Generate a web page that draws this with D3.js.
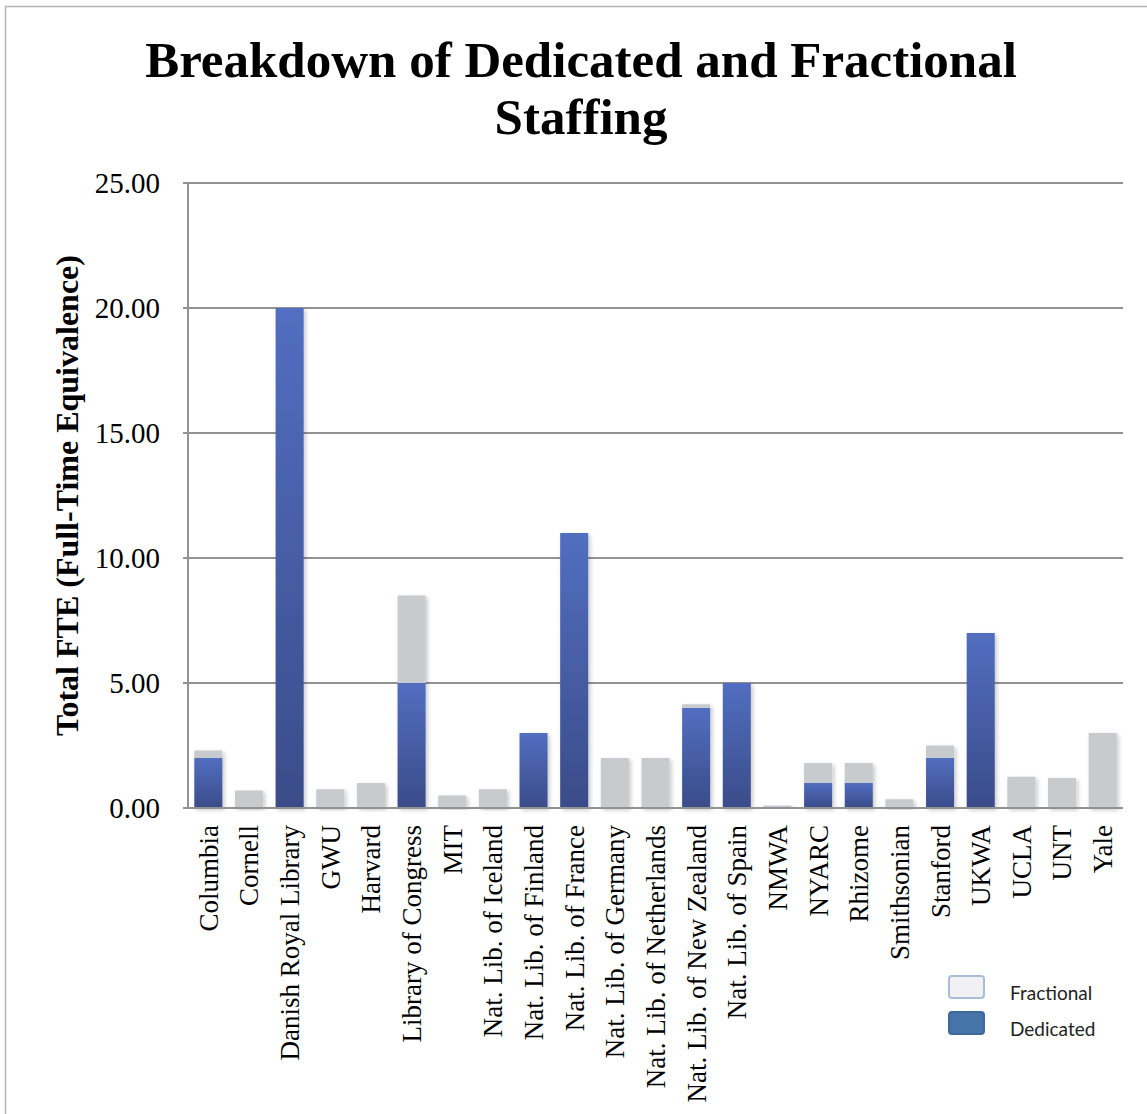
<!DOCTYPE html>
<html>
<head>
<meta charset="utf-8">
<script src="https://d3js.org/d3.v7.min.js"></script>
<style>
  body { margin: 0; background: #fff; }
</style>
</head>
<body>
<div id="chart"></div>
<script>
// data
var categories = ["Columbia", "Cornell", "Danish Royal Library", "GWU", "Harvard",
  "Library of Congress", "MIT", "Nat. Lib. of Iceland", "Nat. Lib. of Finland",
  "Nat. Lib. of France", "Nat. Lib. of Germany", "Nat. Lib. of Netherlands",
  "Nat. Lib. of New Zealand", "Nat. Lib. of Spain", "NMWA", "NYARC", "Rhizome",
  "Smithsonian", "Stanford", "UKWA", "UCLA", "UNT", "Yale"];
var dedicated = [2, 0, 20, 0, 0, 5, 0, 0, 3, 11, 0, 0, 4, 5, 0, 1, 1, 0, 2, 7, 0, 0, 0];
var fractional = [0.3, 0.7, 0, 0.75, 1, 3.5, 0.5, 0.75, 0, 0, 2, 2, 0.15, 0, 0.1, 0.8, 0.8, 0.35, 0.5, 0, 1.25, 1.2, 3];
var yTicks = [0, 5, 10, 15, 20, 25];
var seriesNames = ["Fractional", "Dedicated"];

var W = 1147, H = 1114;
var margin = {top: 183, left: 188, right: 24, bottom: 306};
var width = W - margin.left - margin.right,
    height = H - margin.top - margin.bottom;

var svg = d3.select("#chart").append("svg")
  .attr("width", W).attr("height", H)
  .style("font-family", "'Liberation Serif', 'Times New Roman', serif");

var defs = svg.append("defs");
var grad = defs.append("linearGradient").attr("id", "dedGrad")
  .attr("x1", 0).attr("y1", 0).attr("x2", 0).attr("y2", 1);
grad.append("stop").attr("offset", "0%").attr("stop-color", "#526ec0");
grad.append("stop").attr("offset", "100%").attr("stop-color", "#3a4c89");

var shadow = defs.append("filter").attr("id", "shadow")
  .attr("x", "-20%").attr("y", "-5%").attr("width", "160%").attr("height", "120%");
shadow.append("feDropShadow").attr("dx", 2).attr("dy", 2)
  .attr("stdDeviation", 2).attr("flood-color", "#000").attr("flood-opacity", 0.22);

// outer frame
svg.append("rect")
  .attr("x", 5.5).attr("y", 6.5).attr("width", W + 20).attr("height", H + 20)
  .attr("fill", "none").attr("stroke", "#b3b3b3").attr("stroke-width", 1.5);

// title
var title = svg.append("text")
  .attr("text-anchor", "middle")
  .attr("font-weight", "bold")
  .attr("font-size", 51)
  .attr("fill", "#000");
title.append("tspan").attr("x", 581).attr("y", 77).text("Breakdown of Dedicated and Fractional");
title.append("tspan").attr("x", 581).attr("y", 134).text("Staffing");

var g = svg.append("g").attr("transform", "translate(" + margin.left + "," + margin.top + ")");

var x = d3.scaleBand().domain(categories).range([0, width]).paddingInner(0.31).paddingOuter(0.155);
var y = d3.scaleLinear().domain([0, 25]).range([height, 0]);

// gridlines
g.append("g").selectAll("line").data(yTicks).enter().append("line")
  .attr("x1", -5).attr("x2", width)
  .attr("y1", function(d) { return y(d); })
  .attr("y2", function(d) { return y(d); })
  .attr("stroke", "#929292").attr("stroke-width", 2);

// left axis line
g.append("line").attr("x1", 0).attr("x2", 0).attr("y1", 0).attr("y2", height)
  .attr("stroke", "#929292").attr("stroke-width", 2);

// y axis labels
var yAxis = g.append("g")
  .call(d3.axisLeft(y).tickValues(yTicks).tickSize(0).tickPadding(28)
    .tickFormat(function(d) { return d3.format(".2f")(d); }));
yAxis.select(".domain").remove();
yAxis.selectAll("text")
  .attr("font-family", "'Liberation Serif', 'Times New Roman', serif")
  .attr("font-size", 29).attr("fill", "#000");

// stacked bars
var rows = categories.map(function(c, i) {
  return {name: c, dedicated: dedicated[i], fractional: fractional[i]};
});
var bars = g.append("g").selectAll("g").data(rows).enter().append("g")
  .attr("filter", "url(#shadow)");
bars.filter(function(d) { return d.fractional > 0; }).append("rect")
  .attr("x", function(d) { return x(d.name); })
  .attr("width", x.bandwidth())
  .attr("y", function(d) { return y(d.dedicated + d.fractional); })
  .attr("height", function(d) { return y(d.dedicated) - y(d.dedicated + d.fractional); })
  .attr("fill", "#c8cbce");
bars.filter(function(d) { return d.dedicated > 0; }).append("rect")
  .attr("x", function(d) { return x(d.name); })
  .attr("width", x.bandwidth())
  .attr("y", function(d) { return y(d.dedicated); })
  .attr("height", function(d) { return y(0) - y(d.dedicated); })
  .attr("fill", "url(#dedGrad)");

// baseline on top
g.append("line").attr("x1", 0).attr("x2", width).attr("y1", height).attr("y2", height)
  .attr("stroke", "#929292").attr("stroke-width", 2);

// x axis labels
var xAxis = g.append("g").attr("transform", "translate(0," + height + ")")
  .call(d3.axisBottom(x).tickSize(0));
xAxis.select(".domain").remove();
xAxis.selectAll("text")
  .attr("font-family", "'Liberation Serif', 'Times New Roman', serif")
  .attr("font-size", 27).attr("fill", "#000")
  .attr("transform", "rotate(-90)")
  .attr("text-anchor", "end")
  .attr("x", -17).attr("y", 0).attr("dy", "0.35em");

// y axis title
svg.append("text")
  .attr("transform", "translate(78," + (margin.top + height / 2) + ") rotate(-90)")
  .attr("text-anchor", "middle")
  .attr("font-weight", "bold").attr("font-size", 32)
  .text("Total FTE (Full-Time Equivalence)");

// legend
var legend = svg.append("g").attr("transform", "translate(948,975)")
  .style("font-family", "Lato, 'Open Sans', sans-serif");
var legendFill = ["#f1f1f3", "#4673a8"];
var legendStroke = ["#a9bdd6", "#3f689a"];
seriesNames.forEach(function(s, i) {
  legend.append("rect")
    .attr("x", 1).attr("y", i * 36 + 1).attr("width", 35).attr("height", 22)
    .attr("rx", 3)
    .attr("fill", legendFill[i]).attr("stroke", legendStroke[i]).attr("stroke-width", 2);
  legend.append("text")
    .attr("x", 62).attr("y", i * 36 + 25)
    .attr("font-size", 19).attr("fill", "#222")
    .text(s);
});
</script>
</body>
</html>
